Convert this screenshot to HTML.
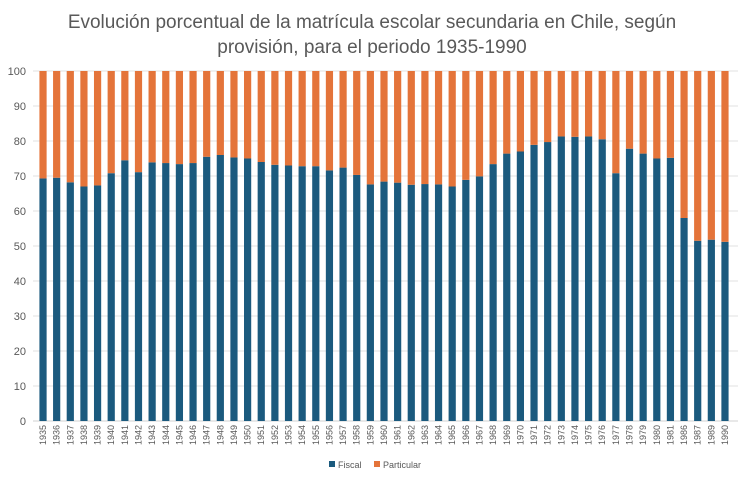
<!DOCTYPE html>
<html><head><meta charset="utf-8"><style>
body{margin:0;background:#fff;font-family:"Liberation Sans",sans-serif}
svg text{font-family:"Liberation Sans",sans-serif}
</style></head><body>
<svg width="745" height="482">
<rect x="0" y="0" width="745" height="482" fill="#fff"/>
<text x="372" y="28" text-anchor="middle" font-size="19" fill="#595959">Evolución porcentual de la matrícula escolar secundaria en Chile, según</text>
<text x="372" y="53" text-anchor="middle" font-size="19" fill="#595959">provisión, para el periodo 1935-1990</text>
<g id="grid"></g><g id="bars"></g><g id="xl"></g>
<g>
<rect x="329" y="461" width="6" height="6" fill="#1b5a7e"/>
<text x="338" y="468" font-size="9" fill="#595959">Fiscal</text>
<rect x="374" y="461" width="6" height="6" fill="#e4743a"/>
<text x="383" y="468" font-size="9" fill="#595959">Particular</text>
</g>
</svg>
<script>
const years=["1935","1936","1937","1938","1939","1940","1941","1942","1943","1944","1945","1946","1947","1948","1949","1950","1951","1952","1953","1954","1955","1956","1957","1958","1959","1960","1961","1962","1963","1964","1965","1966","1967","1968","1969","1970","1971","1972","1973","1974","1975","1976","1977","1978","1979","1980","1981","1986","1987","1989","1990"];
const fiscal=[69.3,69.5,68.2,67,67.3,70.8,74.5,71.1,73.9,73.7,73.4,73.7,75.5,76,75.3,75,74,73.2,73,72.8,72.8,71.6,72.4,70.3,67.6,68.4,68.1,67.5,67.7,67.6,67,68.9,69.9,73.4,76.4,77,78.9,79.7,81.3,81.2,81.3,80.5,70.8,77.8,76.4,75,75.2,58,51.5,51.8,51.2];
const particular=fiscal.map(v=>100-v);
const yTicks=[0,10,20,30,40,50,60,70,80,90,100];
const NS="http://www.w3.org/2000/svg";
const x0=36.2,x1=731.8,yb=421,yt=71;
const band=(x1-x0)/years.length,bw=7.2;
const y=v=>yb-(v/100)*(yb-yt);
const xc=i=>x0+band*(i+0.5);
const mk=(t,a,p)=>{const e=document.createElementNS(NS,t);for(const k in a)e.setAttribute(k,a[k]);p.appendChild(e);return e;};
const g=document.getElementById('grid');
yTicks.forEach(t=>{
 const l=mk('line',{x1:33,x2:738,y1:y(t),y2:y(t),stroke:t===0?'#d0d0d0':'#e0e0e0','stroke-width':1},g);
 
 
 const tx=mk('text',{x:26,y:y(t)+4,'text-anchor':'end','font-size':11,fill:'#595959'},g);
 tx.textContent=t;
 
 
});
const b=document.getElementById('bars'),xl=document.getElementById('xl');
years.forEach((yr,i)=>{
 const cx=xc(i);
 const r1=mk('rect',{x:cx-bw/2,y:y(fiscal[i]),width:bw,height:yb-y(fiscal[i]),fill:'#1b5a7e'},b);
 
 
 const r2=mk('rect',{x:cx-bw/2,y:y(fiscal[i]+particular[i]),width:bw,height:y(fiscal[i])-y(fiscal[i]+particular[i]),fill:'#e4743a'},b);
 
 
 const t=mk('text',{x:0,y:0,'text-anchor':'end','font-size':9,fill:'#595959',transform:`translate(${cx+3},425) rotate(-90)`},xl);
 t.textContent=yr;
 
 
});
</script>
</body></html>
